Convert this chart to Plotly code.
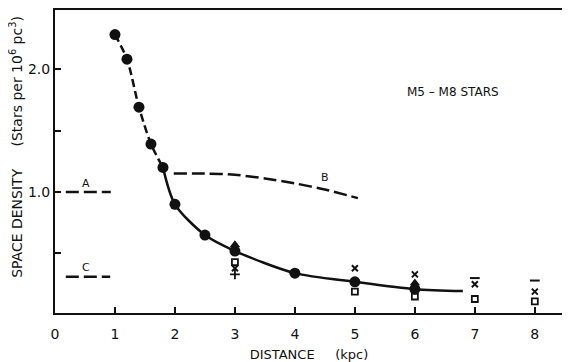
import plotly.graph_objects as go

# main data (filled circles)
dist_main = [1.0, 1.2, 1.4, 1.6, 1.8, 2.0, 2.5, 3.0, 4.0, 5.0, 6.0]
dens_main = [2.28, 2.08, 1.69, 1.39, 1.20, 0.90, 0.65, 0.52, 0.34, 0.27, 0.21]

# fitted curve
curve_dash_x = [1.0, 1.2, 1.4, 1.6, 1.8]
curve_dash_y = [2.28, 2.08, 1.69, 1.39, 1.20]
curve_solid_x = [1.8, 2.0, 2.5, 3.0, 4.0, 5.0, 6.0, 6.8]
curve_solid_y = [1.20, 0.90, 0.65, 0.52, 0.34, 0.27, 0.21, 0.195]

# other symbols
tri_x = [3.0, 6.0]
tri_y = [0.57, 0.26]
sq_x = [3.0, 5.0, 6.0, 7.0, 8.0]
sq_y = [0.43, 0.19, 0.15, 0.13, 0.11]
cross_x = [3.0, 5.0, 6.0, 7.0, 8.0]
cross_y = [0.38, 0.38, 0.33, 0.25, 0.19]
plus_x = [3.0]
plus_y = [0.33]
bar_x = [7.0, 8.0]
bar_y = [0.30, 0.28]

# reference lines
line_a_x = [0.18, 0.93]
line_a_y = [1.0, 1.0]
line_c_x = [0.18, 0.92]
line_c_y = [0.31, 0.31]
line_b_x = [1.98, 2.5, 3.0, 3.5, 4.0, 4.5, 5.05]
line_b_y = [1.15, 1.15, 1.14, 1.11, 1.07, 1.02, 0.95]

x_ticks = [0, 1, 2, 3, 4, 5, 6, 7, 8]
x_ticklabels = ["0", "1", "2", "3", "4", "5", "6", "7", "8"]
y_ticks = [0.5, 1.0, 1.5, 2.0]
y_ticklabels = ["", "1.0", "", "2.0"]

BLACK = "#111111"
DASH_SHORT = "8px,4px"
DASH_LONG = "13px,5px"

fig = go.Figure()

def line(x, y, dash=None, shape="spline"):
    fig.add_trace(go.Scatter(x=x, y=y, mode="lines", line=dict(color=BLACK, width=2.5, dash=dash, shape=shape, smoothing=0.8), showlegend=False, hoverinfo="skip"))

line(curve_dash_x, curve_dash_y, DASH_SHORT)
line(curve_solid_x, curve_solid_y, None)
line(line_a_x, line_a_y, DASH_LONG, "linear")
line(line_c_x, line_c_y, DASH_LONG, "linear")
line(line_b_x, line_b_y, DASH_LONG)

def markers(x, y, symbol, size, lw=1.8):
    fig.add_trace(go.Scatter(x=x, y=y, mode="markers",
                             marker=dict(symbol=symbol, size=size, color=BLACK,
                                         line=dict(color=BLACK, width=lw)),
                             showlegend=False, hoverinfo="skip"))

markers(sq_x, sq_y, "square-open", 6)
markers(cross_x, cross_y, "x-thin", 6, 2)
markers(plus_x, plus_y, "cross-thin", 7)
markers(bar_x, bar_y, "line-ew", 7, 2)
markers(tri_x, tri_y, "triangle-up", 9, 0)
markers(dist_main, dens_main, "circle", 11, 0)

FONT = "DejaVu Sans"

fig.add_annotation(x=0.52, y=1.0, text="A", showarrow=False, yshift=9, font=dict(family=FONT, size=11, color=BLACK))
fig.add_annotation(x=0.52, y=0.31, text="C", showarrow=False, yshift=9, font=dict(family=FONT, size=11, color=BLACK))
fig.add_annotation(x=4.5, y=1.12, text="B", showarrow=False, font=dict(family=FONT, size=11, color=BLACK))
fig.add_annotation(x=6.63, y=1.81, text="M5 – M8 STARS", showarrow=False, font=dict(family=FONT, size=12, color=BLACK))

fig.add_annotation(xref="paper", yref="paper", x=-0.077, y=0.548, xanchor="center", yanchor="middle",
                   text="SPACE DENSITY     (Stars per 10<sup>6</sup> pc<sup>3</sup>)", textangle=-90,
                   showarrow=False, font=dict(family=FONT, size=14, color=BLACK))

fig.update_xaxes(range=[0, 8.47], tickvals=x_ticks, ticktext=x_ticklabels, ticks="inside", ticklen=6, tickwidth=2,
                 tickcolor=BLACK, showline=True, linecolor=BLACK, linewidth=2, mirror=True, showgrid=False,
                 zeroline=False, automargin=False, ticklabelstandoff=7,
                 tickfont=dict(family=FONT, size=14, color=BLACK),
                 title=dict(text="DISTANCE     (kpc)", font=dict(family=FONT, size=13, color=BLACK), standoff=11))
fig.update_yaxes(range=[0.016, 2.48], tickvals=y_ticks, ticktext=y_ticklabels, ticks="inside", ticklen=6, tickwidth=2,
                 tickcolor=BLACK, showline=True, linecolor=BLACK, linewidth=2, mirror=True, showgrid=False,
                 zeroline=False, automargin=False, tickfont=dict(family=FONT, size=14, color=BLACK))

# the page body adds an 8px offset, so the figure is sized to fit the window
fig.update_layout(width=562, height=354, margin=dict(l=47, r=7, t=2, b=49),
                  paper_bgcolor="white", plot_bgcolor="white")

fig.write_html("out.html")
